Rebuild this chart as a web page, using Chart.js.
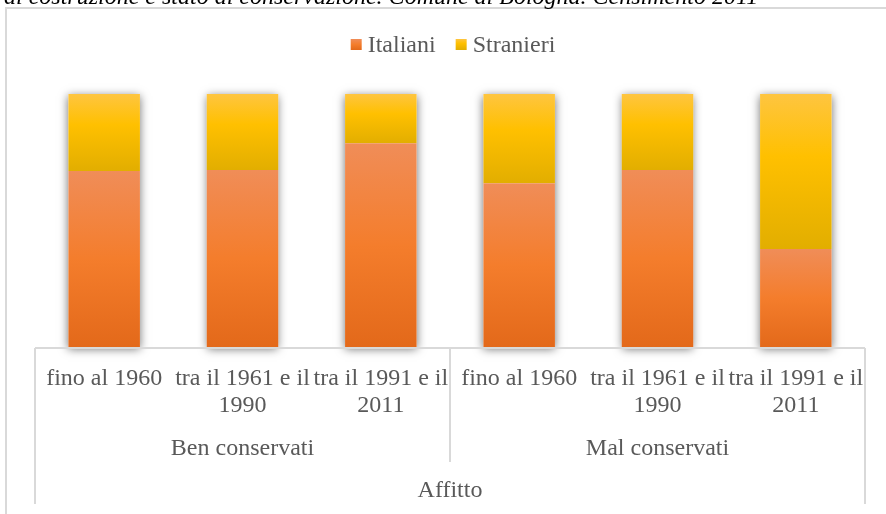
<!DOCTYPE html>
<html>
<head>
<meta charset="utf-8">
<script src="https://cdn.jsdelivr.net/npm/chart.js@4.4.1/dist/chart.umd.min.js"></script>
<style>
  html, body { margin: 0; padding: 0; background: #fff; }
</style>
</head>
<body>
<canvas id="myChart" width="886" height="514"></canvas>
<script>
/* Data */
const categories = ['fino al 1960', ['tra il 1961 e il', '1990'], ['tra il 1991 e il', '2011'],
                    'fino al 1960', ['tra il 1961 e il', '1990'], ['tra il 1991 e il', '2011']];
const groups = ['Ben conservati', 'Mal conservati'];
const outerLabel = 'Affitto';
const italiani = [69.6, 70.0, 80.5, 64.7, 70.0, 38.7];
const stranieri = [30.4, 30.0, 19.5, 35.3, 30.0, 61.3];
const titleText = 'di costruzione e stato di conservazione. Comune di Bologna. Censimento 2011';

/* Styles */
const SERIF = '"Liberation Serif", "Times New Roman", serif';
const TEXT_COLOR = '#595959';
const LINE_COLOR = '#d9d9d9';
const orangeStops = [[0, '#f08d58'], [0.5, '#f47d2c'], [1, '#e3691a']];
const yellowStops = [[0, '#fec540'], [0.4, '#ffc000'], [1, '#e2ae00']];

// vertical gradient over one stacked segment (light top, darker bottom)
function segmentGradient(context, stops) {
    const chart = context.chart;
    if (!chart.chartArea || context.type !== 'data') return stops[1][1];
    const i = context.dataIndex;
    const lo = context.datasetIndex === 0 ? 0 : italiani[i];
    const hi = lo + context.raw;
    const y = chart.scales.y;
    const g = chart.ctx.createLinearGradient(0, y.getPixelForValue(hi), 0, y.getPixelForValue(lo));
    stops.forEach(s => g.addColorStop(s[0], s[1]));
    return g;
}

function boxGradient(c, y0, y1, stops) {
    const g = c.createLinearGradient(0, y0, 0, y1);
    stops.forEach(s => g.addColorStop(s[0], s[1]));
    return g;
}

// frame, title, shadows, multi-level axis labels and legend
const decor = {
    id: 'decor',
    beforeDraw(chart) {
        const c = chart.ctx;
        c.save();
        c.strokeStyle = LINE_COLOR;
        c.lineWidth = 2;
        c.beginPath();
        c.moveTo(6, 514); c.lineTo(6, 8); c.lineTo(886, 8);
        c.stroke();
        c.font = 'italic 24px ' + SERIF;
        c.fillStyle = '#000';
        c.textAlign = 'left';
        c.textBaseline = 'alphabetic';
        c.fillText(titleText, 4, 4);
        c.restore();
    },
    beforeDatasetsDraw(chart) {
        const c = chart.ctx;
        const m0 = chart.getDatasetMeta(0), m1 = chart.getDatasetMeta(1);
        c.save();
        c.shadowColor = 'rgba(0,0,0,0.55)';
        c.shadowBlur = 9;
        c.shadowOffsetY = 2;
        c.fillStyle = '#fff';
        m0.data.forEach((el, i) => {
            const top = m1.data[i].y;
            c.fillRect(el.x - el.width / 2, top, el.width, el.base - top);
        });
        c.restore();
    },
    afterDraw(chart) {
        const c = chart.ctx;
        const x = chart.scales.x;
        const area = chart.chartArea;
        const left = area.left, right = area.right, bottom = area.bottom + 1;
        const mid = (x.getPixelForValue(2) + x.getPixelForValue(3)) / 2;

        c.save();
        // axis line and separators
        c.strokeStyle = LINE_COLOR;
        c.lineWidth = 2;
        c.beginPath();
        c.moveTo(left, bottom); c.lineTo(right, bottom);
        c.moveTo(left, bottom); c.lineTo(left, 504);
        c.moveTo(right, bottom); c.lineTo(right, 504);
        c.moveTo(mid, bottom); c.lineTo(mid, 462);
        c.stroke();

        // category labels
        c.font = '24px ' + SERIF;
        c.fillStyle = TEXT_COLOR;
        c.textAlign = 'center';
        c.textBaseline = 'alphabetic';
        categories.forEach((lab, i) => {
            const px = x.getPixelForValue(i);
            const lines = Array.isArray(lab) ? lab : [lab];
            lines.forEach((ln, k) => c.fillText(ln, px, 385 + k * 27));
        });
        // group labels
        c.fillText(groups[0], (left + mid) / 2, 455);
        c.fillText(groups[1], (mid + right) / 2, 455);
        c.fillText(outerLabel, (left + right) / 2, 497);

        // legend
        const sets = chart.data.datasets;
        const box = 11, gap = 6, spacing = 20;
        const widths = sets.map(d => c.measureText(d.label).width);
        const total = widths.reduce((a, w) => a + box + gap + w, 0) + spacing * (sets.length - 1);
        let lx = (left + right) / 2 + 3 - total / 2;
        c.textAlign = 'left';
        sets.forEach((d, i) => {
            const stops = i === 0 ? orangeStops : yellowStops;
            c.fillStyle = boxGradient(c, 39, 50, stops);
            c.fillRect(lx, 39, box, box);
            c.fillStyle = TEXT_COLOR;
            c.fillText(d.label, lx + box + gap, 52);
            lx += box + gap + widths[i] + spacing;
        });
        c.restore();
    }
};

const ctx = document.getElementById('myChart');

var myChart = new Chart(ctx, {
    type: 'bar',
    data: {
        labels: categories,
        datasets: [{
            label: 'Italiani',
            data: italiani,
            backgroundColor: c => segmentGradient(c, orangeStops),
            borderWidth: 0,
            barPercentage: 0.517,
            categoryPercentage: 1
        }, {
            label: 'Stranieri',
            data: stranieri,
            backgroundColor: c => segmentGradient(c, yellowStops),
            borderWidth: 0,
            barPercentage: 0.517,
            categoryPercentage: 1
        }]
    },
    options: {
        responsive: false,
        animation: false,
        layout: { padding: { left: 35, right: 21, top: 94, bottom: 167 } },
        plugins: {
            legend: { display: false },
            tooltip: { enabled: false }
        },
        scales: {
            x: { display: false, stacked: true },
            y: { display: false, stacked: true, min: 0, max: 100 }
        }
    },
    plugins: [decor]
});
</script>
</body>
</html>
